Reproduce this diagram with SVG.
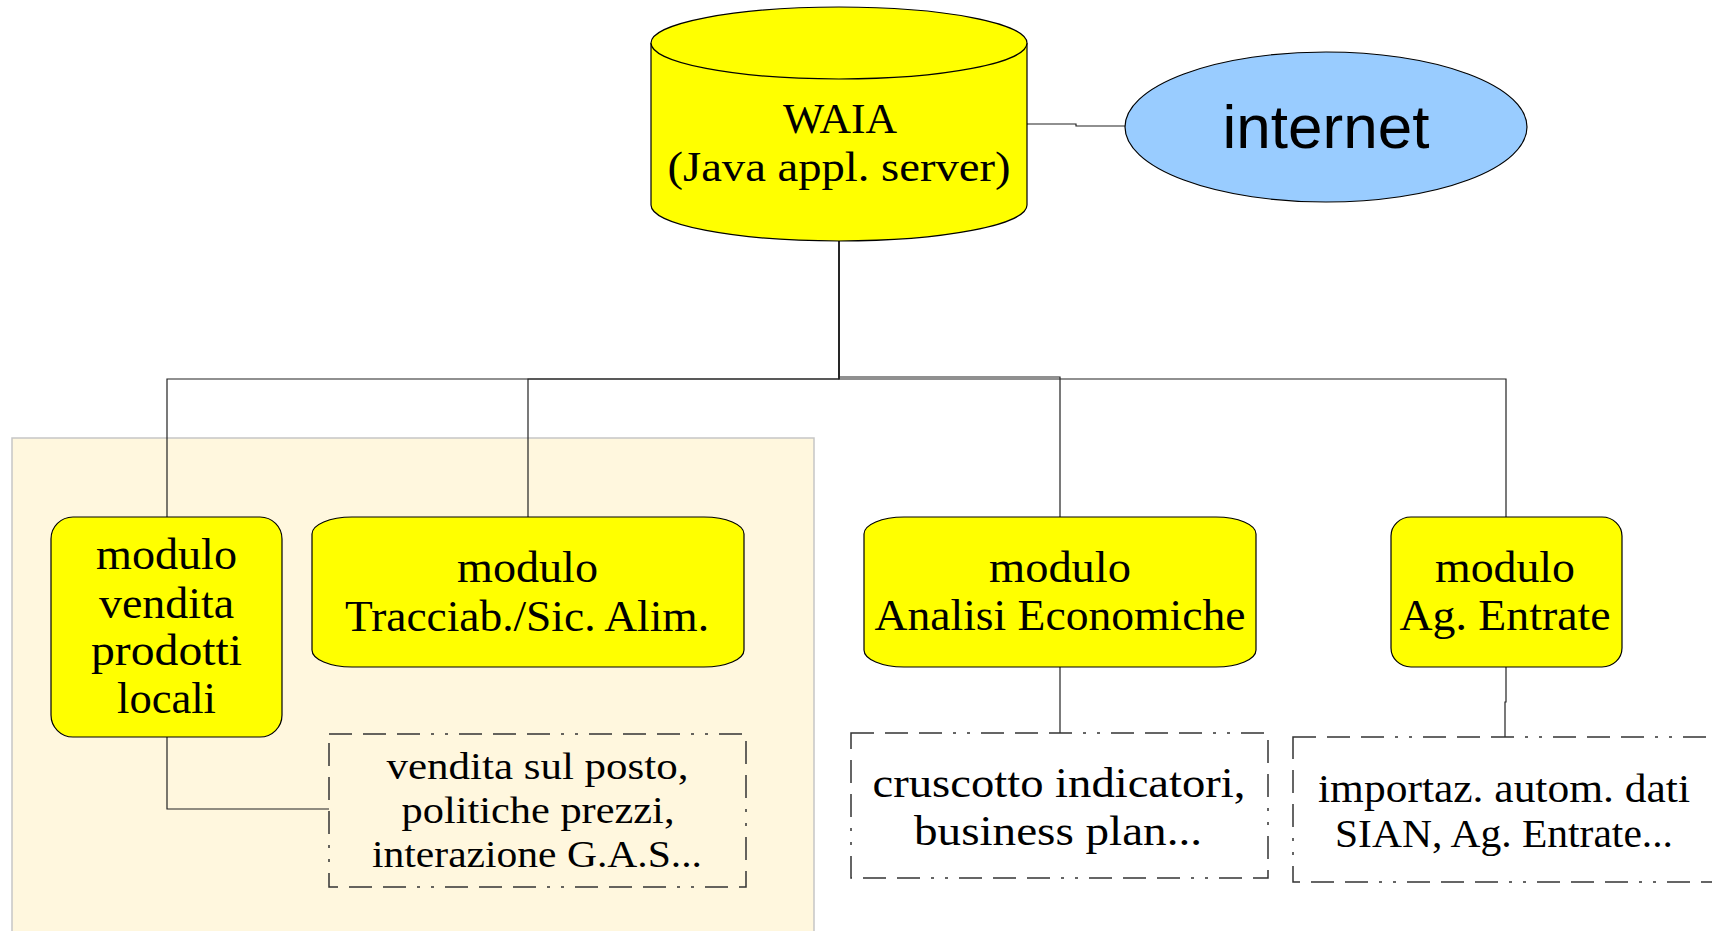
<svg xmlns="http://www.w3.org/2000/svg" width="1712" height="931" viewBox="0 0 1712 931">
<style>
.mod{fill:#ffff00;stroke:#000;stroke-width:1.2}
.cyl{fill:#ffff00;stroke:#000;stroke-width:1.2}
.t{font-family:"Liberation Serif","Times New Roman",serif;fill:#000;text-anchor:middle}
.conn{fill:none;stroke:#222;stroke-width:1.2}
.note{stroke:#333;stroke-width:1.5;stroke-dasharray:23 11 23 11 23 11 3 11 3 11}
</style>
<rect x="0" y="0" width="1712" height="931" fill="#ffffff"/>
<rect id="panel" x="12" y="438" width="802" height="510" fill="#fff7de" stroke="#c6c6c6" stroke-width="1.5"/>

<g id="connectors">
  <polyline class="conn" points="1027,124 1076,124 1076,126 1125,126"/>
  <polyline class="conn" points="839,241 839,379 167,379 167,517"/>
  <polyline class="conn" points="839,241 839,379 528,379 528,517"/>
  <polyline class="conn" points="839,241 839,377 1060,377 1060,517"/>
  <polyline class="conn" points="839,241 839,379 1506,379 1506,517"/>
  <polyline class="conn" points="167,737 167,809 329,809"/>
  <polyline class="conn" points="1060,667 1060,733"/>
  <polyline class="conn" points="1506,667 1506,702 1505,702 1505,737"/>
</g>

<g id="waia">
  <path class="cyl" d="M651,43 L651,205 A188,36 0 0 0 1027,205 L1027,43 A188,36 0 0 0 651,43 Z"/>
  <path class="cyl" d="M651,43 A188,36 0 0 0 1027,43"/>
  <text class="t" x="840" y="133" font-size="43" textLength="114" lengthAdjust="spacingAndGlyphs">WAIA</text>
  <text class="t" x="839" y="181" font-size="43" textLength="343" lengthAdjust="spacingAndGlyphs">(Java appl. server)</text>
</g>

<g id="internet">
  <ellipse cx="1326" cy="127" rx="201" ry="75" fill="#99ccff" stroke="#000" stroke-width="1.2"/>
  <text x="1326" y="148" font-family="Liberation Sans, Arial, sans-serif" font-size="62" text-anchor="middle" fill="#000">internet</text>
</g>

<g id="mod-vendita">
  <rect class="mod" x="51" y="517" width="231" height="220" rx="22" ry="22"/>
  <text class="t" x="166.5" y="569" font-size="44" textLength="141" lengthAdjust="spacingAndGlyphs">modulo</text>
  <text class="t" x="166.5" y="618" font-size="44" textLength="135" lengthAdjust="spacingAndGlyphs">vendita</text>
  <text class="t" x="166.5" y="665" font-size="44" textLength="151" lengthAdjust="spacingAndGlyphs">prodotti</text>
  <text class="t" x="166.5" y="713" font-size="44" textLength="99" lengthAdjust="spacingAndGlyphs">locali</text>
</g>

<g id="mod-tracciab">
  <rect class="mod" x="312" y="517" width="432" height="150" rx="40" ry="17"/>
  <text class="t" x="527.5" y="582" font-size="44" textLength="141" lengthAdjust="spacingAndGlyphs">modulo</text>
  <text class="t" x="527" y="631" font-size="44" textLength="364" lengthAdjust="spacingAndGlyphs">Tracciab./Sic. Alim.</text>
</g>

<g id="mod-analisi">
  <rect class="mod" x="864" y="517" width="392" height="150" rx="40" ry="17"/>
  <text class="t" x="1060" y="582" font-size="44" textLength="142" lengthAdjust="spacingAndGlyphs">modulo</text>
  <text class="t" x="1060" y="630" font-size="44" textLength="371" lengthAdjust="spacingAndGlyphs">Analisi Economiche</text>
</g>

<g id="mod-entrate">
  <rect class="mod" x="1391" y="517" width="231" height="150" rx="20" ry="19"/>
  <text class="t" x="1505" y="582" font-size="44" textLength="140" lengthAdjust="spacingAndGlyphs">modulo</text>
  <text class="t" x="1505" y="630" font-size="44" textLength="211" lengthAdjust="spacingAndGlyphs">Ag. Entrate</text>
</g>

<g id="note-vendita">
  <rect class="note" x="329" y="734" width="417" height="153" fill="none"/>
  <text class="t" x="537.5" y="779" font-size="38" textLength="302" lengthAdjust="spacingAndGlyphs">vendita sul posto,</text>
  <text class="t" x="538" y="823" font-size="38" textLength="273" lengthAdjust="spacingAndGlyphs">politiche prezzi,</text>
  <text class="t" x="537" y="867" font-size="38" textLength="330" lengthAdjust="spacingAndGlyphs">interazione G.A.S...</text>
</g>

<g id="note-analisi">
  <rect class="note" x="851" y="733" width="417" height="145" fill="#ffffff"/>
  <text class="t" x="1059" y="797" font-size="42" textLength="373" lengthAdjust="spacingAndGlyphs">cruscotto indicatori,</text>
  <text class="t" x="1058" y="845" font-size="42" textLength="288" lengthAdjust="spacingAndGlyphs">business plan...</text>
</g>

<g id="note-entrate">
  <rect class="note" x="1293" y="737" width="420" height="145" fill="#ffffff"/>
  <text class="t" x="1504" y="802" font-size="41" textLength="372" lengthAdjust="spacingAndGlyphs">importaz. autom. dati</text>
  <text class="t" x="1504" y="847" font-size="41" textLength="338" lengthAdjust="spacingAndGlyphs">SIAN, Ag. Entrate...</text>
</g>
</svg>
